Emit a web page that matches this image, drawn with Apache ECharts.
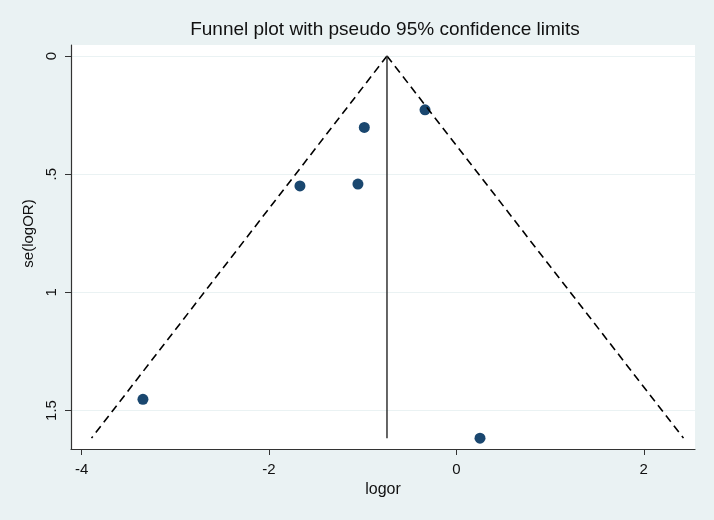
<!DOCTYPE html>
<html>
<head>
<meta charset="utf-8">
<script src="https://cdn.jsdelivr.net/npm/echarts@6/dist/echarts.min.js"></script>
<style>
html,body{margin:0;padding:0;background:#EAF2F3;}
#chart{width:714px;height:520px;}
</style>
</head>
<body>
<div id="chart"></div>
<script>
// Study estimates (logOR, se(logOR))
var studyLogOR = [-3.346, 0.252, -0.983, -0.335, -1.670, -1.051];
var studySE    = [1.453, 1.617, 0.302, 0.2275, 0.5496, 0.542];
// Pooled estimate and funnel limits
var pooledLogOR = -0.741;
var funnelSE = [0, 1.617];
var funnelLeft = [-0.741, -3.895];
var funnelRight = [-0.741, 2.424];
// Tick labels
var xTicks = [-4, -2, 0, 2];
var yTicks = [0, 0.5, 1, 1.5];
var yTickLabels = ['0', '.5', '1', '1.5'];

var points = studyLogOR.map(function (v, i) { return [v, studySE[i]]; });
var leftLine = funnelSE.map(function (s, i) { return [funnelLeft[i], s]; });
var rightLine = funnelSE.map(function (s, i) { return [funnelRight[i], s]; });
var vLine = funnelSE.map(function (s) { return [pooledLogOR, s]; });

var FONT = '"Liberation Sans", Arial, sans-serif';
var chart = echarts.init(document.getElementById('chart'), null, {renderer: 'canvas'});
chart.setOption({
  backgroundColor: '#EAF2F3',
  animation: false,
  title: {
    text: 'Funnel plot with pseudo 95% confidence limits',
    left: 380, top: 15, textAlign: 'center',
    textStyle: {fontFamily: FONT, fontSize: 19, fontWeight: 'normal', color: '#111'}
  },
  grid: {
    left: 71, right: 19, top: 45, bottom: 71,
    show: true, backgroundColor: '#ffffff', borderWidth: 0
  },
  xAxis: {
    type: 'value', min: -4.114, max: 2.547,
    name: 'logor', nameLocation: 'middle', nameGap: 31,
    nameTextStyle: {fontFamily: FONT, fontSize: 16, color: '#111'},
    axisLine: {show: true, onZero: false, lineStyle: {color: '#333', width: 1.2}},
    axisTick: {show: true, length: 6, customValues: xTicks, lineStyle: {color: '#333'}},
    axisLabel: {customValues: xTicks, margin: 13, fontFamily: FONT, fontSize: 15, color: '#111'},
    splitLine: {show: false}
  },
  yAxis: {
    type: 'value', inverse: true, min: -0.0466, max: 1.663,
    name: 'se(logOR)', nameLocation: 'middle', nameGap: 30,
    nameTextStyle: {fontFamily: FONT, fontSize: 15, color: '#111', padding: [0, 0, 0, 27]},
    axisLine: {show: true, onZero: false, lineStyle: {color: '#333', width: 1.2}},
    axisTick: {show: true, length: 6, customValues: yTicks, lineStyle: {color: '#333'}},
    axisLabel: {
      customValues: yTicks, rotate: 90, margin: 12,
      fontFamily: FONT, fontSize: 15, color: '#111',
      formatter: function (v) { var i = yTicks.indexOf(v); return i >= 0 ? yTickLabels[i] : ''; }
    },
    splitLine: {show: true, lineStyle: {color: '#EAF2F3', width: 1}}
  },
  series: [
    {
      type: 'line', data: leftLine, symbol: 'none', silent: true,
      lineStyle: {color: '#000', width: 1.6, type: [8, 5]}
    },
    {
      type: 'line', data: rightLine, symbol: 'none', silent: true,
      lineStyle: {color: '#000', width: 1.6, type: [8, 5]}
    },
    {
      type: 'line', data: vLine, symbol: 'none', silent: true,
      lineStyle: {color: '#333', width: 1.5}
    },
    {
      type: 'scatter', data: points, symbol: 'circle', symbolSize: 11,
      itemStyle: {color: '#1A476F', opacity: 1}
    }
  ]
});
</script>
</body>
</html>
